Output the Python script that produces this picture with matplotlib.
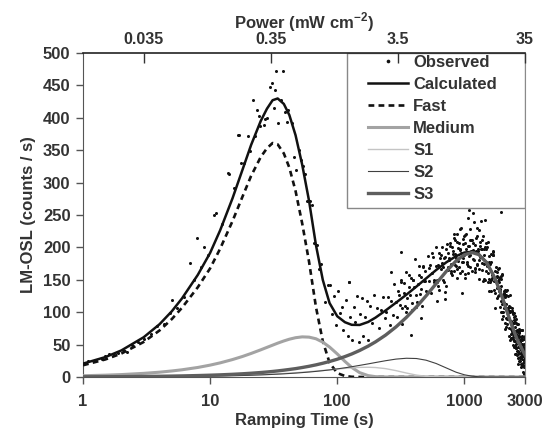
import matplotlib
matplotlib.use("Agg")
import matplotlib.pyplot as plt
import numpy as np
from matplotlib.patches import Rectangle
from matplotlib.ticker import NullLocator

plt.rcParams["font.family"] = ["Liberation Sans", "DejaVu Sans"]
plt.rcParams["font.weight"] = "bold"
plt.rcParams["axes.labelweight"] = "bold"
plt.rcParams["mathtext.fontset"] = "custom"
plt.rcParams["mathtext.rm"] = "Liberation Sans:bold"
plt.rcParams["mathtext.bf"] = "Liberation Sans:bold"

TEXT = "#333333"

# fitted components (counts / s)
time_s = [1, 1.5, 2, 3, 4, 5, 6, 8, 10, 12, 15, 18, 21, 25, 28, 31, 34, 38, 42, 47,
          53, 60, 68, 77, 87, 100, 115, 130, 150, 175, 200, 240, 290, 350, 420, 500,
          600, 720, 860, 1000, 1150, 1300, 1500, 1750, 2000, 2300, 2600, 3000]
fast = [18.1, 27.1, 36.1, 54.0, 71.8, 89.4, 106.7, 138.5, 167.7, 198.1, 240.6, 278.6,
        310.2, 339.4, 353, 361, 359, 345, 323, 287, 237, 178, 108, 55, 22, 6, 1.5, 0.3,
        0, 0, 0, 0, 0, 0, 0, 0, 0, 0, 0, 0, 0, 0, 0, 0, 0, 0, 0, 0]
medium = [1.9, 2.8, 3.7, 5.6, 7.4, 9.3, 11.1, 14.7, 18.3, 21.8, 26.9, 31.7, 36.3, 41.9,
          45.7, 49.1, 52.2, 55.6, 58.3, 60.6, 61.9, 61.5, 59.0, 53.7, 46.2, 35.6, 24.0,
          14.8, 6.7, 2.1, 0.5, 0, 0, 0, 0, 0, 0, 0, 0, 0, 0, 0, 0, 0, 0, 0, 0, 0]
s1 = [0.15, 0.22, 0.29, 0.44, 0.58, 0.73, 0.87, 1.16, 1.45, 1.74, 2.17, 2.6, 3.03, 3.6,
      4.02, 4.44, 4.85, 5.39, 5.93, 6.58, 7.34, 8.2, 9.13, 10.1, 11.1, 12.2, 13.3, 14.1,
      14.8, 15.0, 14.6, 12.9, 9.8, 6.1, 2.9, 1.0, 0.2, 0, 0, 0, 0, 0, 0, 0, 0, 0, 0, 0]
s2 = [0.13, 0.19, 0.26, 0.39, 0.52, 0.65, 0.78, 1.03, 1.29, 1.55, 1.94, 2.32, 2.71, 3.22,
      3.61, 3.99, 4.38, 4.88, 5.39, 6.02, 6.78, 7.65, 8.64, 9.74, 10.9, 12.5, 14.2, 15.8,
      17.9, 20.2, 22.3, 25.1, 27.6, 28.9, 28.5, 25.9, 20.8, 14.0, 7.4, 3.4, 1.2, 0.35,
      0.05, 0, 0, 0, 0, 0]
s3 = [0.28, 0.41, 0.55, 0.83, 1.1, 1.38, 1.65, 2.2, 2.75, 3.3, 4.13, 4.95, 5.78, 6.88,
      7.71, 8.53, 9.36, 10.5, 11.6, 12.9, 14.6, 16.5, 18.7, 21.2, 23.9, 27.4, 31.5, 35.5,
      40.9, 47.6, 54.2, 64.6, 77.3, 92.0, 108.2, 125.2, 144.1, 162.9, 179.0, 188.6, 192.0,
      188.9, 176.4, 151.4, 121.3, 85.7, 58.0, 34.0]
calculated = [20.6, 30.7, 40.9, 61.3, 81.4, 101.5, 121.1, 157.6, 191.5, 226.5, 275.7,
              320.2, 358.0, 395.0, 414.0, 427.1, 429.8, 421.4, 404.2, 373.1, 327.6, 271.9,
              203.5, 149.7, 114.1, 93.7, 84.5, 80.5, 80.3, 84.9, 91.6, 102.6, 114.7, 127.0,
              139.6, 152.1, 165.1, 176.9, 186.4, 192.0, 193.2, 189.3, 176.5, 151.4, 121.3,
              85.7, 58.0, 34.0]

# observed LM-OSL counts
obs_t_early = [1.0, 1.1, 1.25, 1.4, 1.5, 1.6, 1.75, 1.9, 2.05, 2.2, 2.45, 2.7, 3.0, 3.4,
               3.8, 4.3, 4.8, 5.0, 5.5, 6.2, 6.9, 7.4, 7.9, 8.5, 9.0, 9.6]
obs_c_early = [20, 24, 25, 28, 32, 35, 34, 37, 41, 38, 50, 54, 59, 66, 78, 82, 98, 119,
               107, 124, 176, 150, 214, 170, 201, 189]
obs_t_peak = [10.8, 11.2, 12.5, 13.7, 14.2, 15.5, 16.7, 17.0, 17.6, 18.5, 19.7, 20.5,
              21.6, 22.5, 23.5, 24.4, 24.9, 26.7, 27.0, 28.2, 29.8, 30.4, 31.6, 32.6,
              33.0, 34.5, 36.0, 37.6, 39.0, 39.9, 41.0, 44.0, 46.0, 47.6, 50.0, 52.0,
              54.0]
obs_c_peak = [250, 253, 236, 315, 314, 292, 373, 373, 330, 330, 372, 348, 427, 372, 412,
              403, 387, 389, 398, 400, 447, 453, 415, 443, 472, 392, 428, 472, 409, 393,
              412, 392, 340, 320, 350, 335, 325]
obs_t_dip = [56, 58, 61, 63, 66, 69, 72, 75, 80, 84, 88, 91, 94, 97, 102, 105, 109, 112,
             118, 121, 124, 127, 131, 135, 139, 143, 148, 152, 156, 160, 165, 170, 176,
             181, 187, 193]
obs_c_dip = [314, 272, 272, 265, 206, 203, 167, 175, 116, 142, 142, 97, 125, 80, 132, 98,
             108, 72, 119, 63, 146, 93, 57, 108, 85, 125, 54, 97, 122, 63, 93, 117, 57,
             109, 83, 126]
obs_t_rise = [205, 212, 221, 228, 236, 243, 251, 259, 266, 274, 281, 289, 296,
              303, 311, 318, 326, 333, 341, 349, 356, 364, 372, 381, 389, 397, 406, 414,
              423, 431, 440, 449, 458, 467, 476, 485, 494,
              503, 514, 525, 536, 547, 559, 570, 582, 594, 606, 618, 631, 643, 656, 669,
              682, 695, 709, 723, 737, 751, 766, 781, 796,
              307, 322, 337, 353, 368, 385, 402, 419, 436, 454, 472, 490, 509, 530, 552,
              576, 600, 625, 650, 676, 702, 716, 730, 744, 758, 773, 788, 315, 345, 395]
obs_c_rise = [107, 75, 103, 124, 91, 101, 123, 80, 117, 96, 144, 116, 93,
              132, 111, 146, 82, 129, 110, 162, 107, 139, 126, 152, 104, 149, 182, 127,
              116, 144, 171, 128, 154, 109, 170, 148, 163,
              132, 187, 148, 173, 129, 161, 185, 150, 201, 146, 173, 135, 184, 167, 201,
              150, 184, 131, 197, 169, 183, 207, 164, 200,
              126, 107, 145, 122, 157, 114, 139, 108, 158, 136, 172, 148, 131, 168, 192,
              146, 171, 141, 189, 169, 185, 141, 205, 165, 180, 202, 161, 149, 101, 150]
obs_t_top = [805, 818, 830, 843, 856, 869, 882, 896, 910, 924, 938, 952, 967, 982, 997,
             1012, 1027, 1043, 1059, 1075, 1091, 1108, 1125, 1142, 1159, 1176, 1194, 1212,
             1230, 1248,
             1265, 1283, 1301, 1320, 1339, 1358, 1377, 1397, 1417, 1437, 1458, 1479, 1500,
             1521, 1543, 1565, 1587, 1610, 1633, 1656, 1680, 1704, 1728, 1753, 1778, 1795,
             1350, 1450, 1550, 1690,
             812, 824, 837, 850, 862, 875, 889, 903, 917, 931, 945, 960, 975, 990, 1005,
             1020, 1035, 1051, 1067, 1083, 1100, 1117, 1134, 1151, 1168, 1185, 1203, 1221,
             1239, 1257, 1274, 1292, 1311, 1330, 1368, 1387, 1407, 1427, 1447, 1468, 1490,
             1511, 1532, 1554, 1576, 1598, 1621, 1645, 1668, 1716]
obs_c_top = [157, 190, 215, 173, 183, 209, 153, 199, 170, 229, 191, 163, 205, 183, 218,
             152, 197, 178, 245, 172, 202, 188, 212, 163, 206, 253, 181, 168, 194, 218,
             174, 197, 151, 209, 185, 198, 165, 217, 175, 197, 150, 178, 200, 161, 209,
             151, 174, 133, 178, 158, 188, 134, 164, 106, 169, 138, 241, 242, 132, 193,
             195, 164, 211, 190, 171, 220, 179, 207, 160, 196, 230, 178, 213, 188, 159,
             207, 221, 174, 202, 187, 229, 169, 195, 211, 182, 239, 162, 203, 215, 173,
             195, 227, 167, 202, 176, 211, 148, 189, 200, 164, 207, 171, 147, 187, 175,
             147, 190, 152, 194, 148]
obs_t_fall = [1805, 1822, 1840, 1858, 1876, 1894, 1912, 1930, 1948, 1966, 1985, 2004,
              2023, 2042, 2061, 2080, 2100, 2120, 2140, 2160, 2180, 2200, 2220, 2240,
              2260, 2280, 2300, 2320, 2340, 2360, 2380, 2395, 1870, 1990, 2130,
              2405, 2418, 2431, 2444, 2457, 2470, 2483, 2496, 2509, 2522, 2535, 2548,
              2561, 2574, 2587, 2600, 2614, 2628, 2642, 2656, 2670, 2684, 2698, 2712,
              2726, 2740, 2754, 2768, 2782, 2796, 2810, 2824, 2838, 2852, 2866, 2880,
              2894, 2908, 2922, 2936, 2950, 2964, 2978, 2990, 2998,
              1812, 1831, 1849, 1867, 1885, 1903, 1921, 1939, 1957, 1975, 1995, 2014,
              2033, 2052, 2071, 2090, 2110, 2150, 2170, 2190, 2210, 2230, 2250, 2270,
              2290, 2310, 2330, 2350, 2370, 2390, 2411, 2424, 2437, 2450, 2463, 2476,
              2489, 2502, 2515, 2528, 2541, 2554, 2567, 2580, 2593, 2607, 2621, 2635,
              2649, 2663, 2677, 2691, 2705, 2719, 2733, 2747, 2761, 2775, 2789, 2803,
              2817, 2831, 2845, 2859, 2873, 2887, 2901, 2915, 2929, 2943, 2957, 2971,
              2985, 2994]
obs_c_fall = [162, 122, 148, 168, 127, 133, 154, 101, 140, 112, 159, 123, 94, 130, 107,
              135, 74, 113, 91, 135, 81, 106, 91, 110, 64, 100, 127, 74, 60, 82, 102, 62,
              146, 89, 126,
              59, 99, 66, 83, 46, 69, 85, 55, 94, 48, 67, 35, 71, 56, 81, 40, 65, 20, 71,
              47, 56, 74, 37, 64, 29, 54, 72, 36, 43, 62, 16, 51, 28, 73, 42, 17, 50, 32,
              58, 4, 40, 23, 63, 17, 41,
              155, 125, 166, 133, 151, 108, 136, 151, 117, 157, 100, 127, 114, 132, 84,
              123, 133, 89, 106, 90, 125, 75, 101, 57, 102, 87, 67, 102, 71, 106, 50, 84,
              67, 88, 56, 93, 36, 71, 77, 44, 83, 51, 89, 34, 62, 73, 36, 64, 82, 40, 54,
              24, 70, 44, 72, 31, 57, 20, 59, 41, 63, 20, 72, 32, 45, 21, 50, 8, 61, 25,
              51, 15, 43, 30]
obs_t_extra = [612, 637, 663, 689, 737, 789, 835, 880, 925, 970, 1015, 1062, 1110, 1160,
               1210, 1262, 1315, 1372, 1430, 1490, 1553, 1618, 1686, 1750, 1815, 1880,
               1945, 2010, 2075, 2145, 2215, 2285, 2355, 2425, 2495, 2565, 2635, 2705,
               2775, 2845, 2915, 2985, 2455, 2545, 2655, 2745, 2835, 2925]
obs_c_extra = [149, 192, 176, 146, 192, 175, 220, 166, 198, 178, 219, 160, 211, 196, 167,
               230, 180, 198, 151, 198, 177, 150, 189, 130, 156, 134, 156, 101, 127, 77,
               104, 108, 68, 97, 48, 69, 30, 68, 37, 62, 18, 47, 98, 45, 60, 25, 57, 26]
obs_t_misc = [124, 265, 317, 380, 455, 610, 700, 960, 1080, 1930]
obs_c_misc = [147, 162, 193, 65, 91, 118, 120, 130, 258, 255]

x_ticks = [1, 10, 100, 1000, 3000]
x_tick_labels = ["1", "10", "100", "1000", "3000"]
power_ticks = [3, 30, 300, 3000]
power_labels = ["0.035", "0.35", "3.5", "35"]

obs_t = (obs_t_early + obs_t_peak + obs_t_dip + obs_t_rise + obs_t_top + obs_t_fall
         + obs_t_extra + obs_t_misc)
obs_c = (obs_c_early + obs_c_peak + obs_c_dip + obs_c_rise + obs_c_top + obs_c_fall
         + obs_c_extra + obs_c_misc)

fig = plt.figure(figsize=(5.49, 4.28), dpi=100)
ax = fig.add_axes([0.1512, 0.1192, 0.8051, 0.7570])

ax.plot(obs_t, obs_c, linestyle="none", marker="o", markersize=2.2,
        markeredgewidth=0, color="#111111", label="Observed", zorder=2)
ax.plot(time_s, calculated, color="#111111", lw=1.8, label="Calculated", zorder=3)
ax.plot(time_s, fast, color="#111111", lw=1.9, dashes=(2.2, 1.6), label="Fast", zorder=3)
ax.plot(time_s, medium, color="#a3a3a3", lw=2.2, label="Medium", zorder=3)
ax.plot(time_s, s1, color="#c4c4c4", lw=1.0, label="S1", zorder=3)
ax.plot(time_s, s2, color="#404040", lw=0.8, label="S2", zorder=3)
ax.plot(time_s, s3, color="#5e5e5e", lw=2.4, label="S3", zorder=3)

ax.set_xscale("log")
ax.set_xlim(1, 3000)
ax.set_ylim(0, 500)
ax.set_xticks(x_ticks)
ax.set_xticklabels(x_tick_labels)
ax.xaxis.set_minor_locator(NullLocator())
ax.set_yticks(np.arange(0, 501, 50))
ax.tick_params(axis="both", direction="out", length=5, width=1, colors="#555555",
               labelcolor=TEXT, labelsize=12, pad=4)
ax.tick_params(axis="x", pad=7)
for lbl in ax.get_xticklabels() + ax.get_yticklabels():
    lbl.set_fontweight("bold")
ax.set_xlabel("Ramping Time (s)", fontsize=12, color=TEXT, fontweight="bold", labelpad=3)
ax.set_ylabel("LM-OSL (counts / s)", fontsize=12, color=TEXT, fontweight="bold", labelpad=5)

for side in ["left", "bottom"]:
    ax.spines[side].set_color("#555555")
ax.spines["right"].set_color("#8a8a8a")
ax.spines["top"].set_visible(False)

top = ax.twiny()
top.set_xscale("log")
top.set_xlim(1, 3000)
top.set_xticks(power_ticks)
top.set_xticklabels(power_labels)
top.xaxis.set_minor_locator(NullLocator())
top.tick_params(axis="x", direction="in", length=7, width=1, colors="#333333",
                labelcolor=TEXT, labelsize=11.5, pad=4)
for lbl in top.get_xticklabels():
    lbl.set_fontweight("bold")
top.spines["top"].set_color("#222222")
top.spines["top"].set_linewidth(1.2)
for side in ["left", "right", "bottom"]:
    top.spines[side].set_visible(False)
top.set_xlabel("Power (mW cm$^{\\mathbf{-2}}$)", fontsize=12, color=TEXT,
               fontweight="bold", labelpad=3)

# legend box drawn by hand, it hugs the top right corner of the plot
ax.add_patch(Rectangle((0.597, 0.522), 0.403, 0.478, transform=ax.transAxes,
                       facecolor="white", edgecolor="#888888", lw=1.0, zorder=4))
leg = ax.legend(loc="upper left", bbox_to_anchor=(0.645, 0.995), frameon=False,
                fontsize=12, handlelength=2.4, handletextpad=0.3, labelspacing=0.42,
                borderpad=0, borderaxespad=0, markerscale=1.2)
leg.set_zorder(5)
for txt in leg.get_texts():
    txt.set_color(TEXT)
    txt.set_fontweight("bold")

fig.savefig("out.png", dpi=100)
